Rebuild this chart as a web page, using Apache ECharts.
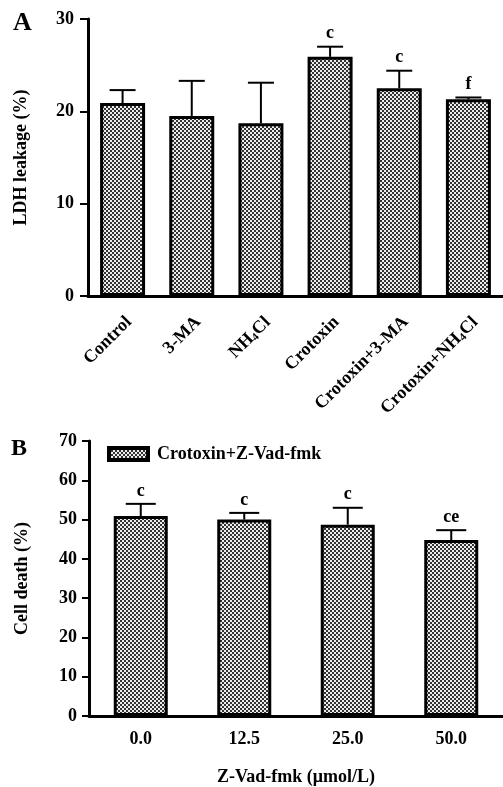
<!DOCTYPE html>
<html>
<head>
<meta charset="utf-8">
<script src="https://cdn.jsdelivr.net/npm/echarts@6/dist/echarts.min.js"></script>
<style>
html,body{margin:0;padding:0;background:#fff;}
#chart{width:503px;height:787px;}
</style>
</head>
<body>
<div id="chart"></div>
<script>
// Panel A data
const catsA = ['Control', '3-MA', 'NH4Cl', 'Crotoxin', 'Crotoxin+3-MA', 'Crotoxin+NH4Cl'];
const meanA = [20.9, 19.5, 18.7, 25.9, 22.5, 21.3];
const errTopA = [22.3, 23.3, 23.1, 27.0, 24.4, 21.5];
const lettersA = ['', '', '', 'c', 'c', 'f'];
const yTicksA = [0, 10, 20, 30];

// Panel B data
const catsB = ['0.0', '12.5', '25.0', '50.0'];
const meanB = [50.9, 50.0, 48.7, 44.8];
const errTopB = [54.0, 51.7, 53.0, 47.3];
const lettersB = ['c', 'c', 'c', 'ce'];
const yTicksB = [0, 10, 20, 30, 40, 50, 60, 70];
const seriesNameB = 'Crotoxin+Z-Vad-fmk';

const FONT = '"Liberation Serif", "Times New Roman", serif';

function makePattern() {
  const c = document.createElement('canvas');
  c.width = 4; c.height = 4;
  const g = c.getContext('2d');
  g.fillStyle = '#ececec';
  g.fillRect(0, 0, 4, 4);
  g.fillStyle = '#333333';
  g.fillRect(0, 0, 2, 2);
  g.fillRect(2, 2, 2, 2);
  return c;
}
const pattern = { image: makePattern(), repeat: 'repeat' };

function errRender(letters, capHalf) {
  return function (params, api) {
    const i = api.value(0);
    const base = api.coord([i, api.value(1)]);
    const top = api.coord([i, api.value(2)]);
    return {
      type: 'group',
      children: [
        { type: 'line', shape: { x1: base[0], y1: base[1], x2: top[0], y2: top[1] }, style: { stroke: '#000', lineWidth: 2 } },
        { type: 'line', shape: { x1: top[0] - capHalf, y1: top[1], x2: top[0] + capHalf, y2: top[1] }, style: { stroke: '#000', lineWidth: 2 } },
        { type: 'text', style: { text: letters[params.dataIndex], x: top[0], y: top[1] - 4, align: 'center', verticalAlign: 'bottom', textAlign: 'center', textVerticalAlign: 'bottom', font: 'bold 18px ' + FONT, fill: '#000' } }
      ]
    };
  };
}

const axisLine = { show: true, lineStyle: { color: '#000', width: 3 } };
const labelFont = { color: '#000', fontFamily: FONT, fontWeight: 'bold', fontSize: 18 };

const chart = echarts.init(document.getElementById('chart'), null, { renderer: 'canvas' });
chart.setOption({
  animation: false,
  backgroundColor: '#fff',
  graphic: [
    { type: 'text', left: 13, top: 10, style: { text: 'A', font: 'bold 26px ' + FONT, fill: '#000' } },
    { type: 'text', left: 11, top: 437, style: { text: 'B', font: 'bold 24px ' + FONT, fill: '#000' } }
  ],
  legend: {
    data: [{ name: seriesNameB, icon: 'rect' }],
    left: 107, top: 445, padding: 0,
    itemWidth: 39, itemHeight: 12, itemGap: 8,
    textStyle: Object.assign({ padding: [0, 0, 0, 4] }, labelFont),
    itemStyle: { borderColor: '#000', borderWidth: 4 }
  },
  grid: [
    { left: 88, top: 19, width: 417, height: 277 },
    { left: 89, top: 441, width: 414, height: 275 }
  ],
  xAxis: [
    {
      gridIndex: 0, type: 'category', data: catsA,
      axisLine: axisLine,
      axisTick: { alignWithLabel: true, length: 7, lineStyle: { color: '#000', width: 2 } },
      axisLabel: Object.assign({
        rotate: 45, margin: 17, interval: 0, verticalAlign: 'top',
        formatter: function (v) { return v.replace('NH4Cl', 'NH{s|4}Cl'); },
        rich: { s: { fontFamily: FONT, fontWeight: 'bold', fontSize: 11, color: '#000', padding: [8, 0, 0, 0] } }
      }, labelFont)
    },
    {
      gridIndex: 1, type: 'category', data: catsB,
      axisLine: axisLine,
      axisTick: { alignWithLabel: true, length: 6, lineStyle: { color: '#000', width: 2 } },
      axisLabel: Object.assign({ margin: 14 }, labelFont),
      name: 'Z-Vad-fmk (\u03bcmol/L)', nameLocation: 'middle', nameGap: 52,
      nameTextStyle: Object.assign({}, labelFont)
    }
  ],
  yAxis: [
    {
      gridIndex: 0, type: 'value', min: yTicksA[0], max: yTicksA[yTicksA.length - 1], interval: 10,
      axisLine: axisLine,
      axisTick: { show: true, length: 8, lineStyle: { color: '#000', width: 2 } },
      splitLine: { show: false },
      axisLabel: Object.assign({ margin: 14 }, labelFont),
      name: 'LDH leakage (%)', nameLocation: 'middle', nameGap: 58,
      nameTextStyle: Object.assign({}, labelFont)
    },
    {
      gridIndex: 1, type: 'value', min: yTicksB[0], max: yTicksB[yTicksB.length - 1], interval: 10,
      axisLine: axisLine,
      axisTick: { show: true, length: 7, lineStyle: { color: '#000', width: 2 } },
      splitLine: { show: false },
      axisLabel: Object.assign({ margin: 12 }, labelFont),
      name: 'Cell death (%)', nameLocation: 'middle', nameGap: 58,
      nameTextStyle: Object.assign({}, labelFont)
    }
  ],
  series: [
    {
      type: 'bar', xAxisIndex: 0, yAxisIndex: 0, data: meanA, barWidth: 45,
      itemStyle: { color: pattern, borderColor: '#000', borderWidth: 3 }
    },
    {
      type: 'custom', xAxisIndex: 0, yAxisIndex: 0, z: 5,
      renderItem: errRender(lettersA, 13),
      data: meanA.map(function (m, i) { return [i, m, errTopA[i]]; })
    },
    {
      name: seriesNameB,
      type: 'bar', xAxisIndex: 1, yAxisIndex: 1, data: meanB, barWidth: 54,
      itemStyle: { color: pattern, borderColor: '#000', borderWidth: 3 }
    },
    {
      type: 'custom', xAxisIndex: 1, yAxisIndex: 1, z: 5,
      renderItem: errRender(lettersB, 15),
      data: meanB.map(function (m, i) { return [i, m, errTopB[i]]; })
    }
  ]
});
</script>
</body>
</html>
